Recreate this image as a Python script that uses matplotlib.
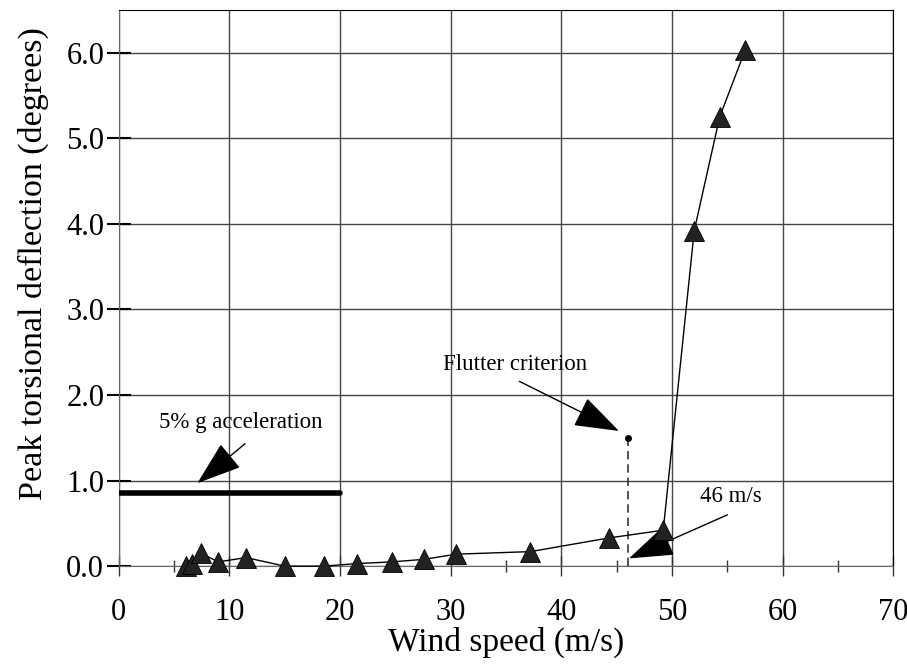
import matplotlib.pyplot as plt
import numpy as np

plt.rcParams['font.family'] = ['Liberation Serif', 'DejaVu Serif']

# measured points (wind speed m/s, peak torsional deflection deg)
wind = [6.1, 6.6, 7.4, 9.0, 11.5, 15.0, 18.5, 21.5, 24.7, 27.6, 30.5, 37.2, 44.3, 49.2, 52.0, 54.3, 56.6]
defl = [0.0, 0.02, 0.15, 0.05, 0.10, 0.0, 0.0, 0.03, 0.05, 0.08, 0.14, 0.17, 0.33, 0.42, 3.92, 5.25, 6.03]

accel_x = [0, 20]
accel_y = [0.86, 0.86]

flutter_speed = 46
flutter_defl = 1.5

fig = plt.figure(figsize=(9.07, 6.7), dpi=100)
ax = fig.add_axes([0.131, 0.155, 0.854, 0.83])

ax.plot(wind, defl, color='black', lw=1, marker='^', ms=15,
        markerfacecolor='#222222', markeredgecolor='black', markeredgewidth=0.6,
        clip_on=False, zorder=5)

ax.plot(accel_x, accel_y, color='black', lw=4, solid_capstyle='round', zorder=4)

ax.plot([flutter_speed, flutter_speed], [0, flutter_defl], color='#333333', lw=1.2,
        ls=(0, (5, 3)), zorder=3)
ax.plot([flutter_speed], [flutter_defl], 'o', color='black', ms=4, zorder=4)

arrow = dict(arrowstyle='-|>,head_length=1.3,head_width=0.45', color='black',
             lw=1, mutation_scale=22, shrinkA=0, shrinkB=0)

ax.text(11.0, 1.68, '5% g acceleration', fontsize=16.5, ha='center', va='center')
ax.annotate('', xy=(7.1, 0.97), xytext=(11.4, 1.43), arrowprops=arrow)

ax.text(35.8, 2.36, 'Flutter criterion', fontsize=16.5, ha='center', va='center')
ax.annotate('', xy=(45.2, 1.58), xytext=(36.2, 2.16), arrowprops=arrow)

ax.text(55.3, 0.81, '46 m/s', fontsize=16.5, ha='center', va='center')
ax.annotate('', xy=(46.1, 0.09), xytext=(55.0, 0.6), arrowprops=arrow)

ax.set_xlim(0, 70)
ax.set_ylim(0, 6.5)
ax.set_xticks(np.arange(0, 71, 10))
ax.set_xticks(np.arange(5, 70, 10), minor=True)
ax.set_yticks(np.arange(0, 6.1, 1.0))
ax.set_yticklabels(['%.1f' % v for v in np.arange(0, 6.1, 1.0)])

ax.grid(True, which='major', color='#444444', lw=1)
ax.set_axisbelow(True)

ax.spines['bottom'].set_color('#666666')
ax.spines['left'].set_color('#666666')
ax.spines['top'].set_color('black')
ax.spines['right'].set_color('black')

ax.tick_params(axis='x', which='major', direction='inout', length=14, width=1,
               color='#333333', labelsize=22, pad=16)
ax.tick_params(axis='x', which='minor', direction='inout', length=9, width=1,
               color='#333333')
ax.tick_params(axis='y', which='major', direction='inout', length=17, width=1.5,
               color='black', labelsize=22, pad=2)

ax.set_xlabel('Wind speed (m/s)', fontsize=24, labelpad=0)
ax.set_ylabel('Peak torsional deflection (degrees)', fontsize=24.5)
ax.yaxis.set_label_coords(-0.09, 0.545)

fig.savefig('out.png', dpi=100)
